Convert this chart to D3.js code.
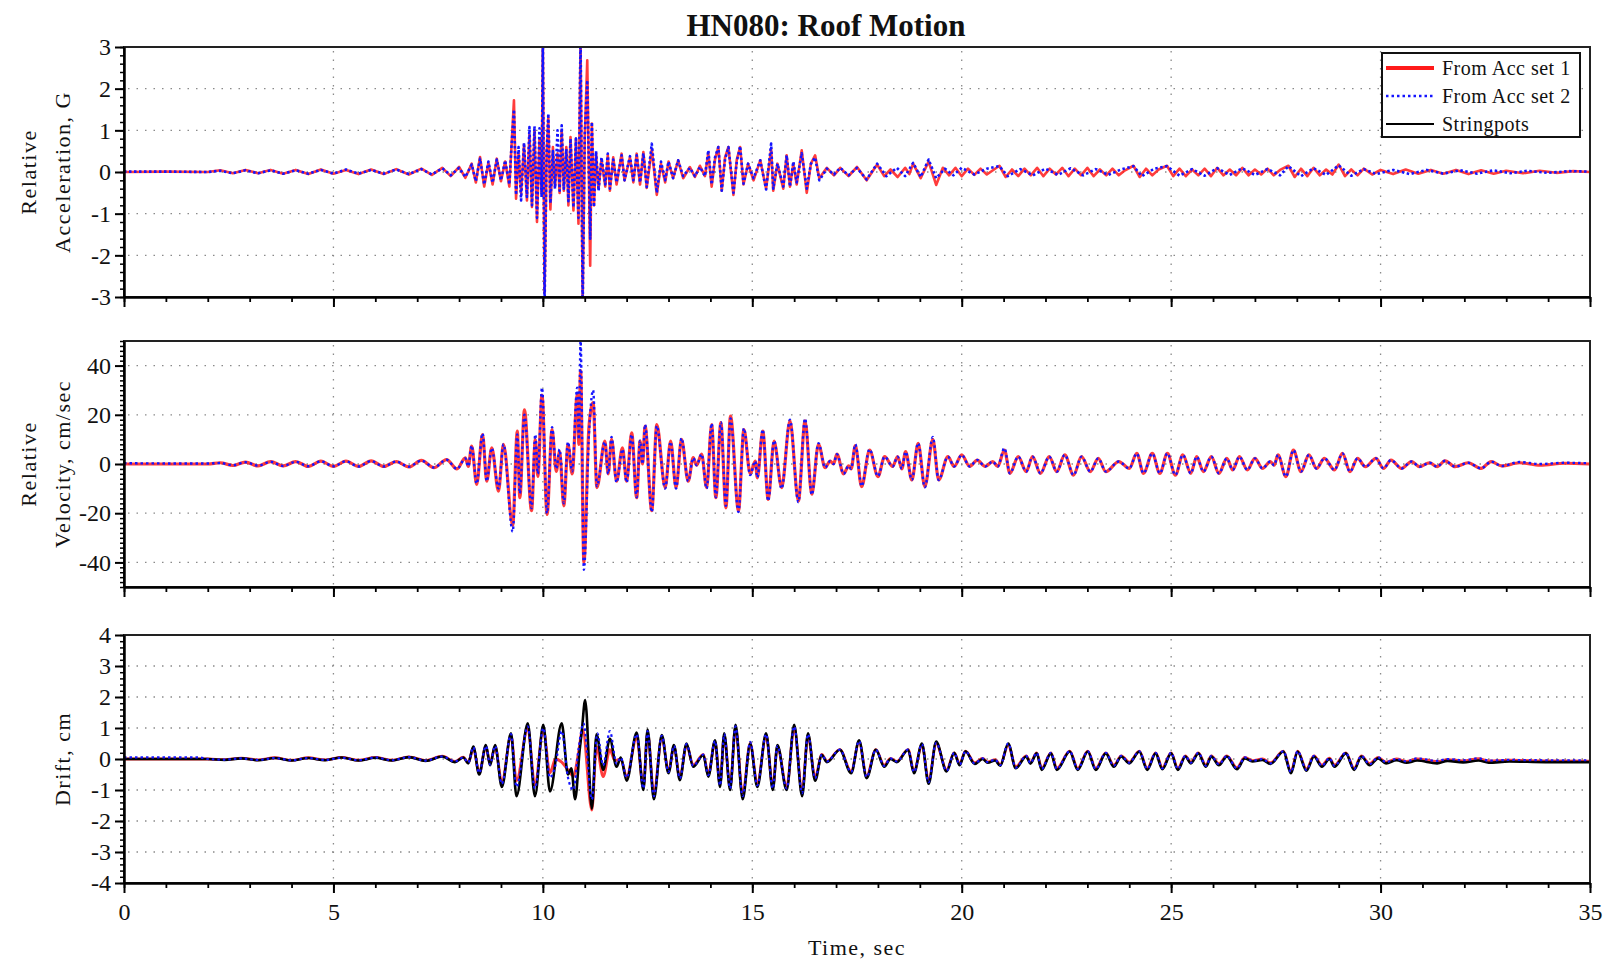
<!DOCTYPE html>
<html>
<head>
<meta charset="utf-8">
<script src="https://cdn.jsdelivr.net/npm/d3@7"></script>
<style>
  body { margin: 0; background: #fff; }
  svg { display: block; }
  text { font-family: "Liberation Serif", "Times New Roman", serif; fill: #111; }
</style>
</head>
<body>
<svg id="chart" width="1606" height="964"></svg>
<script>
// ---- data: [time sec, value] ----
const xTicks = [0, 5, 10, 15, 20, 25, 30, 35]
const accTicks = [-3, -2, -1, 0, 1, 2, 3]
const velTicks = [-40, -20, 0, 20, 40]
const driftTicks = [-4, -3, -2, -1, 0, 1, 2, 3, 4]
const legendNames = ["From Acc set 1", "From Acc set 2", "Stringpots"]

// relative acceleration, G
const accSet1 = [[0,0],[1,0.01],[2,0],[2.3,0.04],[2.6,-0.03],[2.9,0.05],[3.2,-0.03],[3.5,0.05],[3.8,-0.04],[4.1,0.05],
  [4.4,-0.05],[4.7,0.06],[5,-0.04],[5.3,0.05],[5.6,-0.05],[5.9,0.06],[6.2,-0.05],[6.5,0.07],[6.8,-0.06],[7.1,0.08],
  [7.35,-0.07],[7.6,0.1],[7.8,-0.1],[8,0.12],[8.15,-0.14],[8.3,0.2],[8.4,-0.25],[8.5,0.36],[8.6,-0.35],[8.7,0.22],
  [8.8,-0.3],[8.9,0.32],[9,-0.22],[9.1,0.25],[9.2,-0.35],[9.31,1.72],[9.36,-0.64],[9.42,0.45],[9.48,-0.5],[9.55,0.65],
  [9.62,-0.68],[9.68,0.9],[9.74,-0.84],[9.8,1.0],[9.86,-1.2],[9.92,0.8],[9.97,-0.5],[10,3.1],[10.04,-2.9],[10.09,0.4],
  [10.13,1.3],[10.18,-0.9],[10.24,0.6],[10.29,-0.35],[10.35,0.45],[10.4,-0.5],[10.45,1.0],[10.5,-0.45],[10.56,0.6],[10.61,-0.8],
  [10.66,0.84],[10.73,-0.92],[10.79,0.8],[10.85,-1.24],[10.9,3.1],[10.95,-3.1],[11,0.8],[11.06,2.68],[11.13,-2.25],[11.17,1.16],
  [11.22,-0.8],[11.27,0.45],[11.33,-0.4],[11.4,0.3],[11.49,-0.35],[11.55,0.4],[11.6,-0.45],[11.68,0.35],[11.76,-0.3],[11.88,0.44],
  [11.95,-0.2],[12.08,0.35],[12.16,-0.25],[12.24,0.44],[12.32,-0.3],[12.4,0.48],[12.48,-0.38],[12.6,0.55],[12.72,-0.55],[12.82,0.2],
  [12.92,-0.25],[13,0.25],[13.11,-0.15],[13.23,0.28],[13.35,-0.15],[13.51,0.12],[13.63,-0.12],[13.75,0.15],[13.87,-0.1],[13.95,0.45],
  [14.03,-0.35],[14.11,0.3],[14.19,0.6],[14.27,-0.45],[14.35,0.35],[14.43,0.6],[14.55,-0.55],[14.63,0.3],[14.71,0.6],[14.79,-0.3],
  [14.9,0.2],[15.03,-0.2],[15.19,0.28],[15.33,-0.4],[15.45,0.55],[15.5,-0.45],[15.6,0.2],[15.74,-0.4],[15.82,0.4],[15.9,-0.35],
  [15.98,0.2],[16.06,-0.3],[16.18,0.52],[16.3,-0.5],[16.4,0.2],[16.5,0.4],[16.6,-0.15],[16.78,0.1],[16.95,-0.08],[17.1,0.1],
  [17.3,-0.1],[17.5,0.12],[17.73,-0.2],[17.98,0.18],[18.15,-0.1],[18.3,0.06],[18.47,-0.12],[18.65,0.1],[18.75,-0.05],[18.84,0.2],
  [19.02,-0.15],[19.21,0.25],[19.39,-0.31],[19.55,0.1],[19.7,-0.08],[19.85,0.1],[20,-0.1],[20.15,0.08],[20.3,-0.07],[20.45,0.08],
  [20.6,-0.06],[20.9,0.15],[21.05,-0.12],[21.2,0.06],[21.35,-0.1],[21.5,0.08],[21.65,-0.08],[21.8,0.1],[21.95,-0.1],[22.1,0.08],
  [22.25,-0.06],[22.4,0.1],[22.55,-0.1],[22.7,0.08],[22.85,-0.08],[23,0.1],[23.15,-0.1],[23.3,0.06],[23.45,-0.08],[23.6,0.08],
  [23.75,-0.08],[23.9,0.04],[24.1,0.15],[24.25,-0.12],[24.4,0.08],[24.55,-0.08],[24.7,0.06],[24.9,0.15],[25.05,-0.1],[25.2,0.08],
  [25.35,-0.1],[25.5,0.06],[25.65,-0.08],[25.8,0.08],[25.95,-0.1],[26.1,0.1],[26.25,-0.08],[26.4,0.06],[26.55,-0.08],[26.7,0.1],
  [26.85,-0.08],[27,0.06],[27.15,-0.06],[27.3,0.08],[27.45,-0.08],[27.6,0.05],[27.8,0.15],[27.95,-0.12],[28.1,0.08],[28.25,-0.1],
  [28.4,0.1],[28.55,-0.08],[28.7,0.06],[28.85,-0.06],[29,0.18],[29.15,-0.1],[29.3,0.06],[29.45,-0.08],[29.6,0.08],[29.8,-0.06],
  [30,0.05],[30.3,-0.05],[30.6,0.06],[30.9,-0.04],[31.2,0.05],[31.5,-0.04],[31.8,0.05],[32.1,-0.05],[32.4,0.04],[32.7,-0.04],
  [33,0.03],[33.4,-0.03],[33.8,0.03],[34.2,-0.02],[34.6,0.02],[35,0]]

const accSet2 = [[0,0.01],[1,0.01],[2,0],[2.3,0.03],[2.6,-0.03],[2.9,0.04],[3.2,-0.03],[3.5,0.04],[3.8,-0.04],[4.1,0.04],
  [4.4,-0.04],[4.7,0.05],[5,-0.04],[5.3,0.06],[5.6,-0.04],[5.9,0.05],[6.2,-0.04],[6.5,0.06],[6.8,-0.05],[7.1,0.07],
  [7.35,-0.06],[7.6,0.09],[7.8,-0.08],[8,0.1],[8.15,-0.12],[8.3,0.18],[8.4,-0.22],[8.5,0.32],[8.6,-0.3],[8.7,0.25],
  [8.8,-0.26],[8.9,0.3],[9,-0.2],[9.1,0.28],[9.2,-0.3],[9.25,0.6],[9.31,1.5],[9.36,-0.55],[9.42,0.6],[9.48,-0.68],
  [9.55,0.7],[9.62,-0.6],[9.68,1.08],[9.74,-0.8],[9.8,1.1],[9.86,-1.1],[9.92,1.05],[9.97,-0.6],[10,3.3],[10.04,-3.3],
  [10.09,0.5],[10.13,1.4],[10.18,-0.75],[10.24,0.5],[10.29,-0.4],[10.35,1.0],[10.4,-0.45],[10.45,1.12],[10.5,-0.4],[10.56,0.55],
  [10.61,-0.7],[10.66,0.8],[10.73,-0.85],[10.79,0.8],[10.85,-1.1],[10.9,3.3],[10.95,-3.3],[11,0.9],[11.06,2.2],[11.13,-1.6],
  [11.17,1.2],[11.22,-0.84],[11.27,0.5],[11.33,-0.45],[11.4,0.35],[11.49,-0.3],[11.55,0.44],[11.6,-0.4],[11.68,0.3],[11.76,-0.25],
  [11.88,0.4],[11.95,-0.2],[12.08,0.38],[12.16,-0.2],[12.24,0.4],[12.32,-0.25],[12.4,0.45],[12.48,-0.36],[12.6,0.68],[12.72,-0.5],
  [12.82,0.25],[12.92,-0.2],[13,0.25],[13.11,-0.15],[13.23,0.28],[13.35,-0.1],[13.51,0.1],[13.63,-0.1],[13.75,0.12],[13.87,-0.1],
  [13.95,0.52],[14.03,-0.3],[14.11,0.35],[14.19,0.6],[14.27,-0.45],[14.35,0.3],[14.43,0.6],[14.55,-0.5],[14.63,0.25],[14.71,0.62],
  [14.79,-0.28],[14.9,0.2],[15.03,-0.15],[15.19,0.28],[15.33,-0.42],[15.45,0.68],[15.5,-0.4],[15.6,0.2],[15.74,-0.35],[15.82,0.4],
  [15.9,-0.35],[15.98,0.25],[16.06,-0.25],[16.18,0.45],[16.3,-0.4],[16.4,0.2],[16.5,0.35],[16.6,-0.2],[16.78,0.08],[16.95,-0.06],
  [17.1,0.1],[17.3,-0.08],[17.5,0.1],[17.73,-0.18],[17.98,0.2],[18.2,-0.1],[18.45,0.1],[18.65,-0.1],[18.84,0.22],[19.02,-0.12],
  [19.21,0.3],[19.39,-0.15],[19.6,0.08],[19.8,-0.08],[20,0.1],[20.3,-0.06],[20.6,0.08],[20.9,0.14],[21.1,-0.1],[21.4,0.07],
  [21.7,-0.08],[22,0.08],[22.3,-0.07],[22.6,0.09],[22.9,-0.08],[23.2,0.07],[23.5,-0.07],[23.8,0.06],[24.1,0.14],[24.3,-0.1],
  [24.6,0.08],[24.9,0.14],[25.2,-0.09],[25.5,0.07],[25.8,-0.09],[26.1,0.09],[26.4,-0.07],[26.7,0.09],[27,-0.07],[27.3,0.07],
  [27.6,-0.08],[27.8,0.14],[28.1,-0.1],[28.4,0.09],[28.7,-0.07],[29,0.16],[29.3,-0.09],[29.6,0.07],[29.9,-0.05],[30.3,0.05],
  [30.7,-0.05],[31.1,0.05],[31.5,-0.04],[31.9,0.04],[32.3,-0.04],[32.7,0.04],[33.1,-0.03],[33.5,0.03],[34,-0.02],[34.5,0.02],[35,0.01]]

// relative velocity, cm/sec
const velSet1 = [[0,0],[2,0],[2.3,0.5],[2.6,-0.6],[2.9,0.8],[3.2,-0.8],[3.5,1],[3.8,-0.8],[4.1,1],[4.4,-1],
  [4.7,1.2],[5,-1],[5.3,1.2],[5.6,-1],[5.9,1.3],[6.2,-1],[6.5,1],[6.8,-1.2],[7.1,1.5],[7.4,-1.5],
  [7.7,1.8],[7.95,-2],[8.15,2.5],[8.22,-1],[8.3,7.3],[8.42,-8.3],[8.56,12],[8.66,-7],[8.78,6.6],[8.94,-11],
  [9.06,8],[9.28,-25],[9.39,13.4],[9.45,-13.7],[9.56,22],[9.73,-19],[9.82,10],[9.88,-5],[9.98,28],[10.1,-20.5],
  [10.22,14],[10.32,-3],[10.4,5],[10.5,-17],[10.6,8],[10.7,-4],[10.82,28],[10.86,8],[10.9,38],[10.98,-40],
  [11.1,15],[11.2,25],[11.29,-9.6],[11.48,9.3],[11.56,-4],[11.64,10],[11.76,-7],[11.9,6.6],[12,-7],[12.12,12.7],
  [12.24,-13.7],[12.32,9.3],[12.38,0],[12.44,15.4],[12.6,-19],[12.72,16],[12.92,-9.6],[13.05,9.3],[13.18,-9.6],[13.31,10],
  [13.47,-7],[13.59,2.6],[13.67,-0.5],[13.79,4],[13.91,-9.6],[14.03,16],[14.13,-13.7],[14.25,16.8],[14.37,-17.8],[14.48,19.5],
  [14.67,-19],[14.8,14],[14.95,-4],[15.07,1.2],[15.12,-5.6],[15.25,13.4],[15.38,-14.4],[15.52,9.3],[15.7,-9.6],[15.9,17.5],
  [16.1,-15],[16.26,17.5],[16.42,-12.3],[16.58,8],[16.74,-1.5],[16.86,1.2],[16.94,0],[17.02,4],[17.18,-4],[17.3,-0.8],
  [17.36,-2],[17.46,7.5],[17.61,-9.2],[17.8,5.7],[18,-5.1],[18.16,3],[18.35,-1],[18.47,3],[18.57,-2],[18.66,5],
  [18.81,-6.5],[18.96,8.4],[19.12,-9.2],[19.31,10],[19.45,-6.5],[19.67,3],[19.82,-1],[20,3.7],[20.19,-1],[20.37,1.6],
  [20.56,-1],[20.74,1],[20.86,-1],[21.02,5.7],[21.15,-3.8],[21.35,3],[21.54,-3.1],[21.69,3],[21.88,-3.8],[22.09,3],
  [22.27,-3.1],[22.46,3.7],[22.67,-4.5],[22.86,3],[23.07,-3.1],[23.26,2.3],[23.44,-3.1],[23.75,1],[24,-1.8],[24.18,4.3],
  [24.34,-3.8],[24.55,4.3],[24.73,-3.8],[24.91,4.3],[25.1,-4.5],[25.28,3.7],[25.47,-3.8],[25.61,3],[25.77,-3.1],[25.96,3],
  [26.14,-3.8],[26.33,2.3],[26.47,-2.4],[26.63,3],[26.82,-2.4],[27,2.3],[27.18,-1.8],[27.37,1],[27.46,-0.5],[27.55,3.7],
  [27.74,-5.1],[27.92,5.7],[28.1,-3.1],[28.29,3.7],[28.47,-1.8],[28.66,2.3],[28.9,-2.4],[29.09,4.3],[29.27,-3.1],[29.45,2.3],
  [29.64,-1.1],[29.89,2.3],[30.07,-1.8],[30.25,1.6],[30.5,-1.8],[30.74,1],[30.93,-1.1],[31.17,0.5],[31.35,-1.1],[31.54,1.3],
  [31.78,-1.1],[32.09,0.5],[32.4,-1.8],[32.64,1],[32.89,-0.8],[33.32,0.5],[33.81,-0.5],[34.4,0.3],[35,0]]

const velSet2 = [[0,0.3],[2,0.2],[2.3,0.4],[2.6,-0.5],[2.9,0.7],[3.2,-0.7],[3.5,0.9],[3.8,-0.8],[4.1,0.9],[4.4,-0.9],
  [4.7,1.1],[5,-0.9],[5.3,1.1],[5.6,-1],[5.9,1.2],[6.2,-1],[6.5,1],[6.8,-1.1],[7.1,1.4],[7.4,-1.4],
  [7.7,1.7],[7.95,-2],[8.15,2.3],[8.22,-1],[8.3,7.5],[8.42,-8],[8.56,12.5],[8.66,-7],[8.78,6.5],[8.94,-10],
  [9.06,8],[9.28,-27.5],[9.39,12],[9.45,-12],[9.56,20],[9.73,-18],[9.82,12],[9.88,-4],[9.98,31],[10.1,-20],
  [10.22,15],[10.32,-2],[10.4,6],[10.5,-16],[10.6,9],[10.7,-3],[10.82,31],[10.86,10],[10.9,50],[10.98,-43],
  [11.1,12],[11.2,30],[11.29,-9],[11.48,9],[11.56,-4],[11.64,11],[11.76,-7.5],[11.9,6],[12,-7.5],[12.12,12],
  [12.24,-13.5],[12.32,9.5],[12.38,0],[12.44,16],[12.6,-19.5],[12.72,15.5],[12.92,-10],[13.05,9],[13.18,-10],[13.31,10.5],
  [13.47,-7],[13.59,2.5],[13.67,-0.5],[13.79,4],[13.91,-10],[14.03,16.5],[14.13,-13.5],[14.25,17],[14.37,-17],[14.48,18.5],
  [14.67,-19.5],[14.8,14.5],[14.95,-4.5],[15.07,1.2],[15.12,-5.5],[15.25,14],[15.38,-15],[15.52,9.5],[15.7,-10],[15.9,18],
  [16.1,-15.5],[16.26,18.5],[16.42,-12.5],[16.58,8.5],[16.74,-1.5],[16.86,1.2],[16.94,0],[17.02,4],[17.18,-4],[17.3,-0.8],
  [17.36,-2],[17.46,8],[17.61,-9],[17.8,6],[18,-5],[18.16,3],[18.35,-1],[18.47,3],[18.57,-2],[18.66,5],
  [18.81,-6.5],[18.96,8.5],[19.12,-9.5],[19.31,11],[19.45,-6.5],[19.67,3],[19.82,-1],[20,3.7],[20.19,-1],[20.37,1.6],
  [20.56,-1],[20.74,1],[20.86,-1],[21.02,6.5],[21.15,-3.8],[21.35,3],[21.54,-3.1],[21.69,3],[21.88,-3.8],[22.09,3],
  [22.27,-3.1],[22.46,3.7],[22.67,-4.5],[22.86,3],[23.07,-3.1],[23.26,2.3],[23.44,-3.1],[23.75,1],[24,-1.8],[24.18,4.3],
  [24.34,-3.8],[24.55,4.3],[24.73,-3.8],[24.91,4.3],[25.1,-4.5],[25.28,3.7],[25.47,-3.8],[25.61,3],[25.77,-3.1],[25.96,3],
  [26.14,-3.8],[26.33,2.3],[26.47,-2.4],[26.63,3],[26.82,-2.4],[27,2.3],[27.18,-1.8],[27.37,1],[27.46,-0.5],[27.55,3.7],
  [27.74,-5.1],[27.92,5.7],[28.1,-3.1],[28.29,3.7],[28.47,-1.8],[28.66,2.3],[28.9,-2.4],[29.09,4.3],[29.27,-3.1],[29.45,2.3],
  [29.64,-1.1],[29.89,2.3],[30.07,-1.8],[30.25,1.6],[30.5,-1.8],[30.74,1],[30.93,-1.1],[31.17,0.5],[31.35,-1.1],[31.54,1.3],
  [31.78,-1.1],[32.09,0.5],[32.4,-1.8],[32.64,1],[32.89,-0.8],[33.32,0.8],[33.81,0],[34.4,0.5],[35,0.3]]

// drift, cm
const driftSet1 = [[0,0],[2,0],[2.4,-0.02],[2.8,0.03],[3.2,-0.03],[3.6,0.04],[4,-0.04],[4.4,0.04],[4.8,-0.03],[5.2,0.05],
  [5.6,-0.04],[6,0.05],[6.4,-0.04],[6.8,0.07],[7.2,-0.05],[7.6,0.09],[7.9,-0.08],[8.1,0.06],[8.22,-0.12],[8.34,0.35],
  [8.48,-0.45],[8.64,0.4],[8.74,-0.15],[8.86,0.4],[9.02,-0.75],[9.24,0.75],[9.37,-0.7],[9.64,1.0],[9.81,-0.85],[10.01,0.95],
  [10.17,-0.45],[10.3,0],[10.45,-0.1],[10.6,-0.35],[10.73,-0.55],[10.85,0.2],[10.95,0.95],[11.17,-1.65],[11.28,0.4],[11.44,-0.57],
  [11.6,0.3],[11.72,-0.05],[11.86,0],[12,-0.57],[12.24,0.7],[12.4,-0.9],[12.5,0.85],[12.65,-1.1],[12.84,0.7],[13,-0.4],
  [13.13,0.4],[13.27,-0.6],[13.43,0.45],[13.59,-0.2],[13.83,0.15],[13.95,-0.5],[14.11,0.55],[14.23,-0.8],[14.33,0.75],[14.47,-0.9],
  [14.6,1.0],[14.77,-1.15],[14.95,0.5],[15.12,-0.8],[15.33,0.75],[15.49,-0.9],[15.6,0.4],[15.82,-0.9],[16,1.0],[16.19,-1.05],
  [16.33,0.75],[16.5,-0.6],[16.66,0.15],[16.78,-0.08],[17.09,0.3],[17.36,-0.4],[17.55,0.55],[17.73,-0.55],[17.95,0.3],[18.15,-0.2],
  [18.3,0.02],[18.45,-0.08],[18.72,0.3],[18.86,-0.4],[19.05,0.45],[19.21,-0.7],[19.39,0.5],[19.64,-0.35],[19.82,0.2],[19.95,-0.15],
  [20.09,0.25],[20.31,-0.12],[20.5,0.02],[20.62,-0.1],[20.8,-0.02],[20.92,-0.18],[21.11,0.45],[21.29,-0.25],[21.54,0.1],[21.64,-0.12],
  [21.79,0.2],[21.91,-0.3],[22.13,0.2],[22.27,-0.3],[22.58,0.25],[22.77,-0.3],[23.01,0.25],[23.2,-0.3],[23.44,0.2],[23.63,-0.2],
  [23.81,0.1],[24,-0.1],[24.24,0.25],[24.43,-0.3],[24.63,0.2],[24.79,-0.28],[25,0.2],[25.16,-0.3],[25.34,0.1],[25.47,-0.1],
  [25.65,0.2],[25.83,-0.2],[25.96,0.1],[26.14,-0.15],[26.33,0.1],[26.57,-0.28],[26.76,0.05],[26.94,-0.05],[27.18,0],[27.37,-0.12],
  [27.68,0.25],[27.86,-0.4],[28.02,0.25],[28.23,-0.32],[28.41,0.1],[28.6,-0.2],[28.78,0.03],[28.9,-0.2],[29.17,0.2],[29.37,-0.3],
  [29.54,0.1],[29.74,-0.15],[29.94,0.05],[30.13,-0.1],[30.38,0],[30.62,-0.08],[30.87,0],[31.35,-0.08],[31.6,-0.02],[31.97,-0.06],
  [32.34,0.01],[32.58,-0.06],[33.07,-0.04],[33.93,-0.06],[35,-0.07]]

const driftSet2 = [[0,0.05],[1.8,0.05],[2,0],[2.4,-0.02],[2.8,0.02],[3.2,-0.03],[3.6,0.03],[4,-0.04],[4.4,0.03],[4.8,-0.03],
  [5.2,0.04],[5.6,-0.04],[6,0.05],[6.4,-0.04],[6.8,0.06],[7.2,-0.05],[7.6,0.08],[7.9,-0.08],[8.1,0.05],[8.22,-0.12],
  [8.34,0.38],[8.48,-0.45],[8.64,0.42],[8.74,-0.18],[8.86,0.42],[9.02,-0.8],[9.24,0.8],[9.37,-0.9],[9.64,1.05],[9.81,-0.95],
  [10.01,1.0],[10.17,-0.6],[10.3,-0.2],[10.45,0.9],[10.6,-0.6],[10.73,-1.0],[10.85,0.3],[10.97,1.15],[11.17,-1.3],[11.3,0.83],
  [11.44,-0.2],[11.6,0.9],[11.76,-0.15],[11.86,0.05],[12,-0.6],[12.24,0.8],[12.4,-0.95],[12.5,0.9],[12.65,-1.2],[12.84,0.75],
  [13,-0.42],[13.13,0.42],[13.27,-0.62],[13.43,0.48],[13.59,-0.22],[13.83,0.14],[13.95,-0.52],[14.11,0.58],[14.23,-0.85],[14.33,0.8],
  [14.47,-0.95],[14.6,1.05],[14.77,-1.2],[14.95,0.55],[15.12,-0.85],[15.33,0.8],[15.49,-0.95],[15.6,0.42],[15.82,-0.95],[16,1.05],
  [16.19,-1.1],[16.33,0.8],[16.5,-0.62],[16.66,0.14],[16.78,-0.08],[17.09,0.3],[17.36,-0.42],[17.55,0.58],[17.73,-0.58],[17.95,0.3],
  [18.15,-0.22],[18.3,0.02],[18.45,-0.08],[18.72,0.3],[18.86,-0.42],[19.05,0.48],[19.21,-0.75],[19.39,0.52],[19.64,-0.38],[19.82,0.2],
  [19.95,-0.18],[20.09,0.25],[20.31,-0.14],[20.5,0.02],[20.62,-0.1],[20.8,-0.02],[20.92,-0.2],[21.11,0.5],[21.29,-0.28],[21.54,0.1],
  [21.64,-0.13],[21.79,0.2],[21.91,-0.32],[22.13,0.2],[22.27,-0.32],[22.58,0.25],[22.77,-0.32],[23.01,0.25],[23.2,-0.32],[23.44,0.2],
  [23.63,-0.22],[23.81,0.1],[24,-0.12],[24.24,0.25],[24.43,-0.32],[24.63,0.2],[24.79,-0.3],[25,0.2],[25.16,-0.32],[25.34,0.1],
  [25.47,-0.12],[25.65,0.2],[25.83,-0.22],[25.96,0.1],[26.14,-0.17],[26.33,0.1],[26.57,-0.3],[26.76,0.05],[26.94,-0.06],[27.18,0],
  [27.37,-0.14],[27.68,0.25],[27.86,-0.42],[28.02,0.25],[28.23,-0.35],[28.41,0.1],[28.6,-0.22],[28.78,0.03],[28.9,-0.22],[29.17,0.2],
  [29.37,-0.32],[29.54,0.1],[29.74,-0.17],[29.94,0.05],[30.13,-0.1],[30.38,0],[30.62,-0.08],[30.87,0.02],[31.35,-0.06],[31.6,0],
  [31.97,-0.04],[32.34,0.02],[32.58,-0.05],[33.07,-0.03],[33.93,-0.04],[35,-0.04]]

const driftString = [[0,0],[2,0],[2.4,-0.03],[2.8,0.02],[3.2,-0.04],[3.6,0.03],[4,-0.05],[4.4,0.03],[4.8,-0.04],[5.2,0.05],
  [5.6,-0.05],[6,0.04],[6.4,-0.05],[6.8,0.06],[7.2,-0.06],[7.6,0.08],[7.9,-0.1],[8.1,0.05],[8.22,-0.14],[8.34,0.4],
  [8.48,-0.5],[8.64,0.45],[8.74,-0.2],[8.86,0.45],[9.02,-0.9],[9.24,0.83],[9.37,-1.2],[9.64,1.15],[9.81,-1.2],[10.01,1.1],
  [10.17,-1.05],[10.45,1.15],[10.6,-0.5],[10.68,-0.3],[10.77,-1.3],[10.88,0.3],[10.93,0.9],[11.01,1.9],[11.17,-1.6],[11.28,0.8],
  [11.44,-0.35],[11.6,0.65],[11.76,-0.25],[11.86,0.05],[12,-0.7],[12.24,0.85],[12.4,-1.0],[12.5,0.95],[12.65,-1.3],[12.84,0.77],
  [13,-0.46],[13.13,0.45],[13.27,-0.68],[13.43,0.5],[13.59,-0.25],[13.83,0.13],[13.95,-0.57],[14.11,0.6],[14.23,-0.9],[14.33,0.83],
  [14.47,-1.0],[14.6,1.1],[14.77,-1.3],[14.95,0.5],[15.12,-0.9],[15.33,0.83],[15.49,-1.0],[15.6,0.45],[15.82,-1.0],[16,1.1],
  [16.19,-1.2],[16.33,0.83],[16.5,-0.7],[16.66,0.13],[16.78,-0.1],[17.09,0.3],[17.36,-0.46],[17.55,0.6],[17.73,-0.62],[17.95,0.3],
  [18.15,-0.25],[18.3,0],[18.45,-0.1],[18.72,0.3],[18.86,-0.46],[19.05,0.5],[19.21,-0.8],[19.39,0.56],[19.64,-0.4],[19.82,0.2],
  [19.95,-0.2],[20.09,0.25],[20.31,-0.16],[20.5,0],[20.62,-0.12],[20.8,-0.05],[20.92,-0.22],[21.11,0.5],[21.29,-0.3],[21.54,0.08],
  [21.64,-0.15],[21.79,0.18],[21.91,-0.35],[22.13,0.18],[22.27,-0.35],[22.58,0.24],[22.77,-0.35],[23.01,0.24],[23.2,-0.35],[23.44,0.18],
  [23.63,-0.25],[23.81,0.08],[24,-0.14],[24.24,0.24],[24.43,-0.35],[24.63,0.18],[24.79,-0.33],[25,0.18],[25.16,-0.35],[25.34,0.08],
  [25.47,-0.14],[25.65,0.18],[25.83,-0.25],[25.96,0.08],[26.14,-0.2],[26.33,0.08],[26.57,-0.33],[26.76,0.02],[26.94,-0.08],[27.18,-0.03],
  [27.37,-0.16],[27.68,0.24],[27.86,-0.46],[28.02,0.24],[28.23,-0.38],[28.41,0.08],[28.6,-0.25],[28.78,0],[28.9,-0.25],[29.17,0.18],
  [29.37,-0.35],[29.54,0.08],[29.74,-0.2],[29.94,0.02],[30.13,-0.14],[30.38,-0.04],[30.62,-0.12],[30.87,-0.05],[31.35,-0.14],[31.6,-0.06],
  [31.97,-0.11],[32.34,-0.05],[32.58,-0.12],[33.07,-0.08],[33.93,-0.1],[35,-0.1]]

// ---- drawing ----
const svg = d3.select("#chart")
const left = 124, right = 1590
const SERIF = '"Liberation Serif", "Times New Roman", serif'

const x = d3.scaleLinear().domain([0, 35]).range([left, right])

const RED = "#ff1a1a", BLUE = "#1414ff", BLACK = "#000"

const panels = [
  { top: 47, bottom: 297, domain: [-3, 3], ticks: accTicks, minor: 0.2,
    labels: ["Relative", "Acceleration, G"],
    series: [{ data: accSet1, color: RED, w: 2.6, dash: null, op: 0.85 },
             { data: accSet2, color: BLUE, w: 2.6, dash: "2.5,2.5", op: 1 }],
    curve: d3.curveLinear },
  { top: 341, bottom: 587, domain: [-50, 50], ticks: velTicks, minor: 2,
    labels: ["Relative", "Velocity, cm/sec"],
    series: [{ data: velSet1, color: RED, w: 3.2, dash: null, op: 0.85 },
             { data: velSet2, color: BLUE, w: 2.4, dash: "2.5,3", op: 1 }],
    curve: d3.curveMonotoneX },
  { top: 635, bottom: 883, domain: [-4, 4], ticks: driftTicks, minor: 0.2,
    labels: ["Drift, cm"],
    series: [{ data: driftSet1, color: RED, w: 2.8, dash: null, op: 0.85 },
             { data: driftString, color: BLACK, w: 2.6, dash: null, op: 1 },
             { data: driftSet2, color: BLUE, w: 2.2, dash: "2.5,3", op: 1 }],
    curve: d3.curveMonotoneX }
]

// title
svg.append("text")
  .attr("x", 826).attr("y", 36)
  .attr("text-anchor", "middle")
  .style("font-size", "31px").style("font-weight", "bold")
  .text("HN080: Roof Motion")

panels.forEach(function (p, pi) {
  const y = d3.scaleLinear().domain(p.domain).range([p.bottom, p.top])
  const g = svg.append("g")

  // grid
  const grid = g.append("g").attr("stroke", "#8a8a8a").attr("stroke-width", 1.3)
    .attr("stroke-dasharray", "1.5,7")
  grid.selectAll(".hg").data(p.ticks.filter(d => d > p.domain[0] && d < p.domain[1]))
    .enter().append("line")
    .attr("x1", left + 4).attr("x2", right)
    .attr("y1", d => y(d)).attr("y2", d => y(d))
  grid.selectAll(".vg").data(xTicks.filter(d => d > 0 && d < 35))
    .enter().append("line")
    .attr("x1", d => x(d)).attr("x2", d => x(d))
    .attr("y1", p.top + 4).attr("y2", p.bottom)

  // clip
  const clipId = "clip" + pi
  svg.append("clipPath").attr("id", clipId).append("rect")
    .attr("x", left).attr("y", p.top).attr("width", right - left).attr("height", p.bottom - p.top)

  const line = d3.line().x(d => x(d[0])).y(d => y(d[1])).curve(p.curve)
  const lines = g.append("g").attr("clip-path", `url(#${clipId})`)
  p.series.forEach(function (s) {
    lines.append("path")
      .datum(s.data)
      .attr("fill", "none")
      .attr("stroke", s.color)
      .attr("stroke-width", s.w)
      .attr("stroke-opacity", s.op)
      .attr("stroke-linejoin", "round")
      .attr("stroke-dasharray", s.dash)
      .attr("d", line)
  })

  // frame
  g.append("rect")
    .attr("x", left).attr("y", p.top)
    .attr("width", right - left).attr("height", p.bottom - p.top)
    .attr("fill", "none").attr("stroke", "#222").attr("stroke-width", 2)

  // y axis: minor then major
  const nMinor = Math.round((p.domain[1] - p.domain[0]) / p.minor)
  const minorVals = d3.range(nMinor + 1).map(i => p.domain[0] + i * p.minor)
  g.append("g").attr("transform", `translate(${left},0)`)
    .call(d3.axisLeft(y).tickValues(minorVals).tickSize(4).tickFormat("").tickSizeOuter(0))
    .call(a => a.select(".domain").remove())
    .call(a => a.selectAll("line").attr("stroke-width", 1.5))
  g.append("g").attr("transform", `translate(${left},0)`)
    .attr("font-family", SERIF)
    .call(d3.axisLeft(y).tickValues(p.ticks).tickSize(9).tickPadding(4).tickFormat(d => String(d)).tickSizeOuter(0))
    .attr("font-family", SERIF)
    .call(a => a.select(".domain").attr("stroke-width", 2.5))
    .call(a => a.selectAll("line").attr("stroke-width", 2))
    .call(a => a.selectAll("text").style("font-family", SERIF).style("font-size", "24px").attr("fill", "#111"))

  // x axis ticks
  const secs = d3.range(36)
  g.append("g").attr("transform", `translate(0,${p.bottom})`)
    .call(d3.axisBottom(x).tickValues(secs).tickSize(5).tickFormat("").tickSizeOuter(0))
    .call(a => a.select(".domain").remove())
    .call(a => a.selectAll("line").attr("stroke-width", 1.8))
  g.append("g").attr("transform", `translate(0,${p.bottom})`)
    .call(d3.axisBottom(x).tickValues(xTicks).tickSize(10).tickPadding(10)
      .tickFormat(pi === 2 ? (d => String(d)) : "").tickSizeOuter(0))
    .attr("font-family", SERIF)
    .call(a => a.select(".domain").attr("stroke-width", 2.5))
    .call(a => a.selectAll("line").attr("stroke-width", 2))
    .call(a => a.selectAll("text").style("font-family", SERIF).style("font-size", "24px").attr("fill", "#111"))

  // y labels
  const yc = (p.top + p.bottom) / 2
  const labelX = p.labels.length === 2 ? [28, 62] : [62]
  p.labels.forEach(function (t, i) {
    svg.append("text")
      .attr("transform", `translate(${labelX[i]},${yc}) rotate(-90)`)
      .attr("text-anchor", "middle")
      .attr("dy", "0.35em")
      .style("font-size", "22px").style("letter-spacing", "1.5px")
      .text(t)
  })
})

// x label
svg.append("text")
  .attr("x", 857).attr("y", 955)
  .attr("text-anchor", "middle")
  .style("font-size", "22px").style("letter-spacing", "1.5px")
  .text("Time, sec")

// legend
const lg = svg.append("g").attr("transform", "translate(1382,53)")
lg.append("rect").attr("width", 198).attr("height", 84)
  .attr("fill", "#fff").attr("stroke", "#111").attr("stroke-width", 2)
const legendStyles = [
  { color: RED, w: 4, dash: null },
  { color: BLUE, w: 2.5, dash: "2.5,3" },
  { color: BLACK, w: 2, dash: null }
]
legendNames.forEach(function (name, i) {
  const yy = 15 + i * 28
  lg.append("line").attr("x1", 4).attr("x2", 52).attr("y1", yy).attr("y2", yy)
    .attr("stroke", legendStyles[i].color).attr("stroke-width", legendStyles[i].w)
    .attr("stroke-dasharray", legendStyles[i].dash)
  lg.append("text").attr("x", 60).attr("y", yy + 7)
    .style("font-size", "20px").style("letter-spacing", "0.5px")
    .text(name)
})
</script>
</body>
</html>
